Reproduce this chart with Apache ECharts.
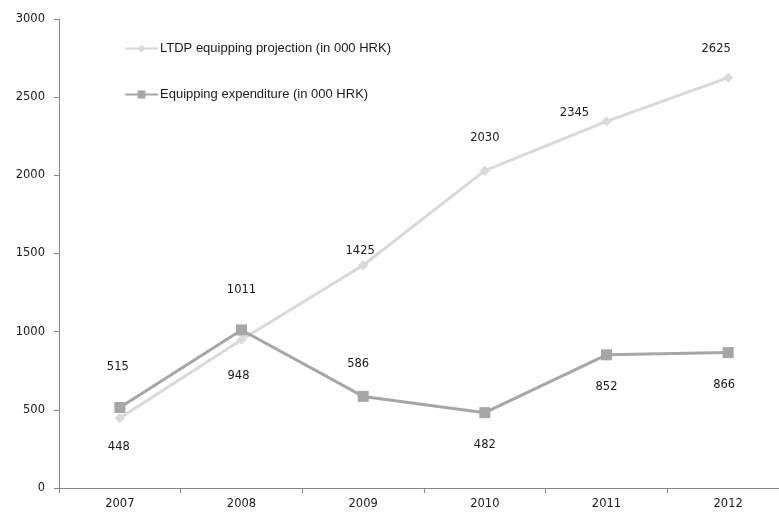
<!DOCTYPE html>
<html>
<head>
<meta charset="utf-8">
<script src="https://cdn.jsdelivr.net/npm/echarts@6/dist/echarts.min.js"></script>
<style>
  html, body { margin: 0; padding: 0; background: #fff; }
  #chart { width: 779px; height: 512px; }
</style>
</head>
<body>
<div id="chart"></div>
<script>
var years       = ['2007', '2008', '2009', '2010', '2011', '2012'];
var projection  = [448, 948, 1425, 2030, 2345, 2625];
var expenditure = [515, 1011, 586, 482, 852, 866];
var yTicks      = [0, 500, 1000, 1500, 2000, 2500, 3000];

// where Excel put each data label, relative to its point (px)
var projLabelOffset = [[-1, 29], [-3, 36], [-3, -14], [0, -33], [-32, -8], [-12, -29]];
var expLabelOffset  = [[-2, -40], [0, -40], [-5, -32], [0, 32], [0, 32], [-4, 32]];

function withLabels(values, offsets) {
	return values.map(function (v, i) {
		return { value: v, label: { offset: offsets[i] } };
	});
}

var labelFont = {
	show: true,
	position: 'inside',
	fontFamily: 'DejaVu Sans',
	fontSize: 11.5,
	color: '#1a1a1a'
};

var myChart = echarts.init(document.getElementById('chart'));
myChart.setOption({
	animation: false,
	grid: {
		left: 59,
		top: 19,
		width: 730,
		height: 469,
		outerBoundsMode: 'none',
		containLabel: false
	},
	legend: {
		orient: 'vertical',
		left: 119,
		top: 37,
		itemGap: 33,
		itemWidth: 33,
		itemHeight: 10,
		textStyle: {
			fontFamily: 'Liberation Sans',
			fontSize: 13,
			color: '#1a1a1a',
			padding: [0, 0, 0, -3]
		},
		data: ['LTDP equipping projection (in 000 HRK)', 'Equipping expenditure (in 000 HRK)']
	},
	xAxis: {
		type: 'category',
		data: years,
		boundaryGap: true,
		axisLine: { lineStyle: { color: '#868686', width: 1 } },
		axisTick: { show: true, length: 5, lineStyle: { color: '#868686' } },
		axisLabel: { fontFamily: 'DejaVu Sans', fontSize: 11.5, color: '#1a1a1a', margin: 10 },
		splitLine: { show: false }
	},
	yAxis: {
		type: 'value',
		min: yTicks[0],
		max: yTicks[yTicks.length - 1],
		interval: yTicks[1] - yTicks[0],
		axisLine: { show: true, lineStyle: { color: '#868686', width: 1 } },
		axisTick: { show: true, length: 5, lineStyle: { color: '#868686' } },
		axisLabel: {
			fontFamily: 'DejaVu Sans',
			fontSize: 11.5,
			color: '#1a1a1a',
			margin: 14,
			formatter: function (v) { return String(v); }
		},
		splitLine: { show: false }
	},
	series: [
		{
			name: 'LTDP equipping projection (in 000 HRK)',
			type: 'line',
			data: withLabels(projection, projLabelOffset),
			symbol: 'diamond',
			symbolSize: 10,
			itemStyle: { color: '#d9d9d9' },
			lineStyle: { color: '#d9d9d9', width: 3 },
			label: labelFont,
			z: 2
		},
		{
			name: 'Equipping expenditure (in 000 HRK)',
			type: 'line',
			data: withLabels(expenditure, expLabelOffset),
			symbol: 'rect',
			symbolSize: 11,
			itemStyle: { color: '#a6a6a6' },
			lineStyle: { color: '#a6a6a6', width: 3 },
			label: labelFont,
			z: 3
		}
	]
});
</script>
</body>
</html>
